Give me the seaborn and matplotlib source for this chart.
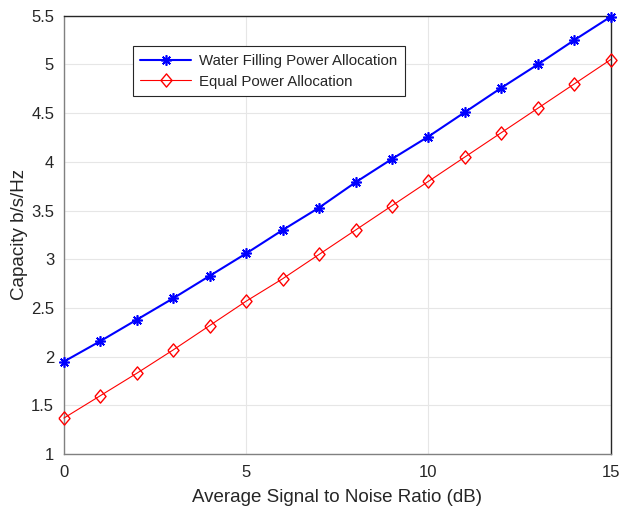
import matplotlib
matplotlib.use("Agg")
import matplotlib.pyplot as plt
import seaborn as sns
import pandas as pd

snr_db = list(range(16))
water_filling = [1.95, 2.16, 2.38, 2.60, 2.83, 3.06, 3.30, 3.53, 3.79, 4.03,
                 4.26, 4.51, 4.76, 5.00, 5.25, 5.49]
equal_power = [1.37, 1.60, 1.83, 2.07, 2.32, 2.57, 2.80, 3.05, 3.30, 3.55,
               3.80, 4.05, 4.30, 4.55, 4.80, 5.05]
series_names = ["Water Filling Power Allocation", "Equal Power Allocation"]
x_ticks = [0, 5, 10, 15]
y_ticks = [1, 1.5, 2, 2.5, 3, 3.5, 4, 4.5, 5, 5.5]

sns.set_style("white")
plt.rcParams['font.family'] = ['Liberation Sans', 'DejaVu Sans']

fig = plt.figure(figsize=(6.2, 5.08), dpi=100)
ax = fig.add_axes([0.103, 0.106, 0.882, 0.863])

df1 = pd.DataFrame({"x": snr_db, "y": water_filling})
df2 = pd.DataFrame({"x": snr_db, "y": equal_power})

diamond = [(-0.42, 0), (0, 0.5), (0.42, 0), (0, -0.5), (-0.42, 0)]

sns.lineplot(data=df1, x="x", y="y", ax=ax, color="#0000ff", lw=1.5,
             marker=(8, 2, 0), markersize=7.5, markeredgewidth=1.2,
             markeredgecolor="#0000ff", label=series_names[0], zorder=3,
             clip_on=False)
sns.lineplot(data=df2, x="x", y="y", ax=ax, color="#ff0000", lw=0.8,
             marker=diamond, markersize=9.5, markerfacecolor="none",
             markeredgecolor="#ff0000", markeredgewidth=1.0,
             label=series_names[1], zorder=3, clip_on=False)

ax.set_xlim(0, 15)
ax.set_ylim(1, 5.5)
ax.set_xticks(x_ticks)
ax.set_yticks(y_ticks)
ax.set_yticklabels([f"{v:g}" for v in y_ticks])
ax.grid(True, color="#e6e6e6", lw=0.8)
ax.set_axisbelow(True)
ax.tick_params(direction="in", length=4, labelsize=12, colors="#262626",
               width=0.8)
ax.tick_params(axis="x", pad=8)
ax.tick_params(axis="y", pad=7)
for s in ["left", "bottom"]:
    ax.spines[s].set_color("#808080")
for s in ["top", "right"]:
    ax.spines[s].set_color("#262626")
for s in ax.spines.values():
    s.set_linewidth(1.0)
    s.set_visible(True)

ax.set_xlabel("Average Signal to Noise Ratio (dB)", fontsize=13.5,
              color="#262626", labelpad=6)
ax.set_ylabel("Capacity b/s/Hz", fontsize=13.5, color="#262626", labelpad=2.5)

leg = ax.legend(loc="upper left", bbox_to_anchor=(0.126, 0.93), fontsize=10.8,
                frameon=True, fancybox=False, edgecolor="#262626",
                framealpha=1, borderpad=0.5, handlelength=3.4,
                labelspacing=0.45, handletextpad=0.5, borderaxespad=0)
leg.get_frame().set_linewidth(0.8)

fig.savefig("out.png", dpi=100)
